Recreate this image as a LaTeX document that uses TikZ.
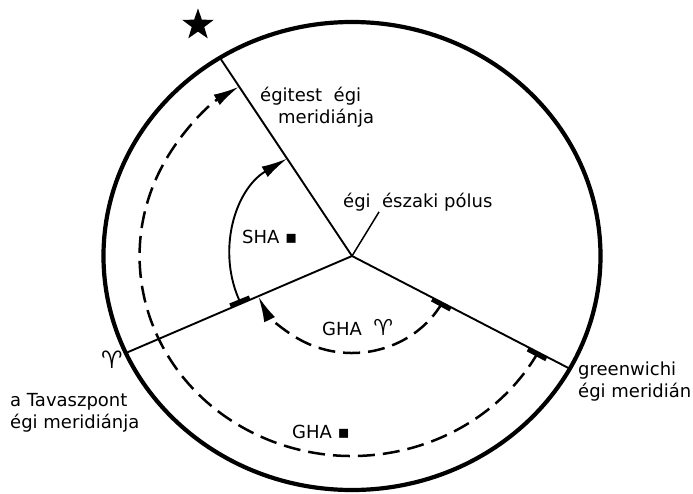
\documentclass[tikz,border=0pt]{standalone}
\usepackage{fontspec}
\setmainfont{DejaVu Sans}
\usetikzlibrary{arrows.meta, shapes.geometric}

\tikzset{
  arrowtip/.style={-{Latex[length=26pt,width=12pt]}}
}

\begin{document}
\begin{tikzpicture}[x=1pt, y=1pt,
  lbl/.style={font=\fontsize{18}{21.5}\selectfont, inner sep=0pt, align=left},
  sym/.style={font=\fontsize{24}{24}\selectfont, inner sep=0pt},
  meridian/.style={line width=1.9pt},
  dasharc/.style={line width=2.5pt, dash pattern=on 17pt off 8pt},
  tickbar/.style={line width=4.6pt}
]
\useasboundingbox (-352,-237) rectangle (341,256);
\begin{scope}[xscale=1.062]
\draw[line width=4.2pt] (0,0) circle[radius=234];
\coordinate (pole) at (0,0);
\coordinate (star-end) at (122.1:234);
\coordinate (aries-end) at (204.5:234);
\coordinate (gw-end) at (331.2:234);
\coordinate (pole-tip) at (60:51);
\draw[meridian] (pole) -- (star-end);
\draw[meridian] (pole) -- (aries-end);
\draw[meridian] (pole) -- (gw-end);
\draw[line width=1.5pt] (pole) -- (pole-tip);
\draw[meridian, arrowtip] (204.5:115) arc[start angle=204.5, end angle=122.1, radius=115];
\draw[dasharc, arrowtip] (331.2:97) arc[start angle=331.2, end angle=204.5, radius=97];
\draw[dasharc, arrowtip] (331.2:200) arc[start angle=331.2, end angle=122.1, radius=200];
\draw[tickbar] (203.4:105) -- (203.4:125);
\draw[tickbar] (330.1:87) -- (330.1:107);
\draw[tickbar] (330.6:190) -- (330.6:210);
\end{scope}
\node[star, star points=5, star point ratio=2.5, fill, minimum size=33pt, inner sep=0pt] (star) at (-154,231) {};
\node[lbl, anchor=base west] (star-lbl) at (-92,133) {égitest~~égi\\\hspace*{18pt}meridiánja};
\node[lbl, anchor=base west] (pole-lbl) at (-9,49) {égi~~északi pólus};
\node[lbl, anchor=base west] (sha-lbl) at (-110,13) {SHA ▪};
\node[lbl, anchor=base west] (gha-in-lbl) at (-30,-79) {GHA~~\fontsize{22}{22}\selectfont ♈};
\node[lbl, anchor=base west] (gha-out-lbl) at (-60,-182) {GHA ▪};
\node[sym] (aries-sym) at (-240,-104) {♈};
\node[lbl, anchor=base west] (aries-lbl) at (-342,-172) {a Tavaszpont\\égi meridiánja};
\node[lbl, anchor=base west] (gw-lbl) at (226,-141) {greenwichi\\égi meridián};
\end{tikzpicture}
\end{document}
